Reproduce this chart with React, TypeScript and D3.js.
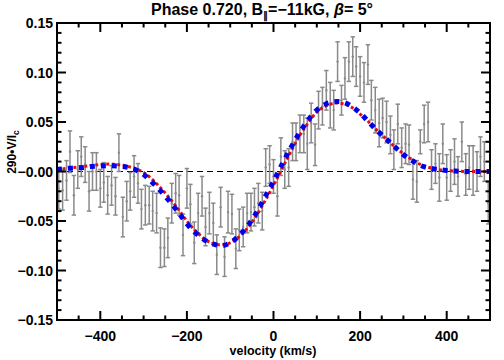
import React from "react";
import * as d3 from "d3";

const W = 504;
const H = 360;
const PLOT = { left: 57, right: 490, top: 23, bottom: 320 };
const FONT = "'Liberation Sans', Arial, Helvetica, sans-serif";

const velocities = [
  -496, -487, -478, -470, -461, -452, -444, -435, -426, -418, -409, -400, -392, -383, -374, -365, -357, -348, -339, -331, -322,
  -313, -305, -296, -287, -279, -270, -261, -252, -244, -235, -226, -218, -209, -200, -192, -183, -174, -165, -157, -148, -139, -131, -122,
  -113, -105, -96, -87, -79, -70, -61, -52,
  -44, -35, -26, -18, -9, 0, 9, 17, 26, 35, 44, 52, 61,
  70, 78, 87, 96, 104, 113, 122, 131, 139, 148, 157, 165, 174, 183, 191, 200, 209, 218, 226, 235, 244, 252, 261, 270,
  278, 287, 296, 305, 313, 322, 331, 339, 348, 357, 365, 374, 383, 391, 400, 409, 418, 426, 435, 444, 452, 461, 470, 478, 487, 496,
];
const stokesV = [
  -0.017, -0.019, -0.009, 0.02, -0.024, 0.002, 0.015, 0.007, -0.02, 0.0, 0.0, -0.017, -0.011, -0.024, -0.014, -0.025, 0.019, -0.046, -0.03, -0.02, -0.005,
  -0.012, -0.038, -0.034, -0.034, -0.04, -0.042, -0.077, -0.077, -0.067, -0.032, -0.022, -0.024, -0.064, -0.017, -0.033, -0.072, -0.042, -0.025, -0.056, -0.042, -0.052, -0.084, -0.036,
  -0.086, -0.041, -0.043, -0.078, -0.059, -0.056, -0.042, -0.041,
  -0.036, -0.032, -0.04, 0.004, 0.007, -0.005, -0.025, 0.015, 0.002, 0.004, 0.03, 0.03, 0.038,
  0.038, 0.028, 0.049, 0.027, 0.062, 0.066, 0.082, 0.067, 0.062, 0.111, 0.072, 0.094, 0.111, 0.116, 0.106, 0.096, 0.09, 0.108, 0.072, 0.062, 0.049, 0.054, 0.05, 0.037,
  0.022, 0.048, 0.024, 0.028, 0.027, -0.008, -0.01, 0.03, 0.048, 0.05, 0.002, 0.008, -0.006, 0.028, -0.006, 0.001, 0.01, -0.005, 0.03, -0.003, 0.004, 0.001, 0.0, 0.015, 0.01, -0.032,
];
const errors = [
  0.021, 0.02, 0.02, 0.021, 0.02, 0.019, 0.02, 0.018, 0.02, 0.019, 0.019, 0.019, 0.02, 0.019, 0.02, 0.019, 0.019, 0.02, 0.02, 0.019, 0.021,
  0.02, 0.02, 0.02, 0.019, 0.02, 0.02, 0.02, 0.019, 0.02, 0.02, 0.02, 0.02, 0.021, 0.02, 0.02, 0.021, 0.02, 0.02, 0.019, 0.021, 0.02, 0.02, 0.02,
  0.02, 0.021, 0.02, 0.02, 0.021, 0.02, 0.02, 0.019,
  0.019, 0.02, 0.019, 0.019, 0.019, 0.017, 0.02, 0.019, 0.019, 0.019, 0.019, 0.019, 0.019,
  0.019, 0.026, 0.02, 0.021, 0.019, 0.019, 0.02, 0.023, 0.02, 0.02, 0.015, 0.021, 0.02, 0.02, 0.02, 0.02, 0.02, 0.02, 0.02, 0.023, 0.024, 0.02, 0.021, 0.019,
  0.02, 0.02, 0.02, 0.02, 0.02, 0.02, 0.021, 0.012, 0.019, 0.02, 0.02, 0.02, 0.024, 0.02, 0.023, 0.021, 0.023, 0.02, 0.02, 0.021, 0.022, 0.025, 0.02, 0.02, 0.02, 0.021,
];

// model profiles
const modelVel = [
  -500, -480, -460, -440, -420, -400, -380, -360, -340, -320, -300, -280, -260, -240, -220, -200, -180, -160, -140, -120, -100, -80, -60, -40, -20,
  0, 20, 40, 60, 80, 100, 120, 140, 160, 180, 200, 220, 240, 260, 280, 300, 320, 340, 360, 380, 400, 420, 440, 460, 480, 500,
];
const modelBlue = [
  0.002, 0.003, 0.0035, 0.004, 0.005, 0.0055, 0.0058, 0.0055, 0.0045, 0.002, -0.003, -0.011, -0.02, -0.03, -0.041, -0.053, -0.062, -0.069, -0.073, -0.075, -0.072, -0.065, -0.055, -0.042, -0.026,
  -0.01, 0.0075, 0.024, 0.039, 0.052, 0.062, 0.068, 0.0705, 0.07, 0.066, 0.059, 0.05, 0.041, 0.033, 0.025, 0.017, 0.011, 0.006, 0.0035, 0.002, 0.001, 0.0005, 0, 0, 0, 0,
];
const modelRed = [
  0.002, 0.003, 0.004, 0.005, 0.006, 0.007, 0.0075, 0.007, 0.0055, 0.003, -0.001, -0.008, -0.017, -0.027, -0.038, -0.05, -0.06, -0.068, -0.073, -0.074, -0.072, -0.066, -0.057, -0.045, -0.03,
  -0.014, 0.003, 0.02, 0.036, 0.049, 0.06, 0.066, 0.069, 0.0685, 0.065, 0.058, 0.05, 0.041, 0.033, 0.025, 0.018, 0.012, 0.007, 0.004, 0.002, 0.001, 0.0005, 0, 0, 0, 0,
];

const xMajor = [-400, -200, 0, 200, 400];
const xLabels = ["−400", "−200", "0", "200", "400"];
const yMajor = [0.15, 0.1, 0.05, 0, -0.05, -0.1, -0.15];
const yLabels = ["0.15", "0.10", "0.05", "−0.00", "−0.05", "−0.10", "−0.15"];

export default function App() {
  const x = d3.scaleLinear().domain([-500, 500]).range([PLOT.left, PLOT.right]);
  const y = d3.scaleLinear().domain([-0.15, 0.15]).range([PLOT.bottom, PLOT.top]);

  const xMinor = d3.range(-500, 501, 50);
  const yMinor = d3.range(-15, 16).map((i) => i / 100);

  const line = d3
    .line<number>()
    .x((_, i) => x(modelVel[i]))
    .y((d) => y(d))
    .curve(d3.curveCatmullRom);

  const capW = 2.2;

  return (
    <svg width={W} height={H} style={{ position: "absolute", left: 0, top: 0, background: "#fff" }}>
      {/* zero line */}
      <line x1={PLOT.left} x2={PLOT.right} y1={y(0)} y2={y(0)} stroke="#000" strokeWidth={1} strokeDasharray="6 4" />

      {/* error bars */}
      <g stroke="#8a8a8a" strokeWidth={1.5} fill="#8a8a8a">
        {velocities.map((v, i) => {
          const cx = x(v);
          const y0 = y(stokesV[i] - errors[i]);
          const y1 = y(stokesV[i] + errors[i]);
          return (
            <g key={i}>
              <line x1={cx} x2={cx} y1={y0} y2={y1} />
              <line x1={cx - capW} x2={cx + capW} y1={y0} y2={y0} />
              <line x1={cx - capW} x2={cx + capW} y1={y1} y2={y1} />
              <circle cx={cx} cy={y(stokesV[i])} r={1.2} stroke="none" />
            </g>
          );
        })}
      </g>

      {/* models */}
      <path d={line(modelRed) || ""} fill="none" stroke="#dd1111" strokeWidth={3} strokeDasharray="3 2.5" />
      <path d={line(modelBlue) || ""} fill="none" stroke="#0000ee" strokeWidth={5} strokeDasharray="5 6" />

      {/* frame */}
      <rect
        x={PLOT.left}
        y={PLOT.top}
        width={PLOT.right - PLOT.left}
        height={PLOT.bottom - PLOT.top}
        fill="none"
        stroke="#000"
        strokeWidth={2}
      />

      {/* ticks */}
      <g stroke="#000" strokeWidth={2}>
        {xMinor.map((v) => {
          const len = xMajor.includes(v) ? 9 : 4.5;
          return (
            <g key={"xt" + v}>
              <line x1={x(v)} x2={x(v)} y1={PLOT.bottom} y2={PLOT.bottom - len} />
              <line x1={x(v)} x2={x(v)} y1={PLOT.top} y2={PLOT.top + len} />
            </g>
          );
        })}
        {yMinor.map((v, i) => {
          const len = i % 5 === 0 ? 9 : 4.5;
          return (
            <g key={"yt" + i}>
              <line x1={PLOT.left} x2={PLOT.left + len} y1={y(v)} y2={y(v)} />
              <line x1={PLOT.right} x2={PLOT.right - len} y1={y(v)} y2={y(v)} />
            </g>
          );
        })}
      </g>

      {/* tick labels */}
      <g fontFamily={FONT} fontWeight="bold" fontSize={14} fill="#000">
        {xMajor.map((v, i) => (
          <text key={"xl" + v} x={x(v)} y={341} textAnchor="middle">
            {xLabels[i]}
          </text>
        ))}
        {yMajor.map((v, i) => (
          <text key={"yl" + i} x={53} y={y(v) + 5} textAnchor="end">
            {yLabels[i]}
          </text>
        ))}
      </g>

      {/* axis titles */}
      <text x={273} y={355} textAnchor="middle" fontFamily={FONT} fontWeight="bold" fontSize={12.5}>
        velocity (km/s)
      </text>
      <text
        transform="translate(16,152) rotate(-90)"
        textAnchor="middle"
        fontFamily={FONT}
        fontWeight="bold"
        fontSize={12}
      >
        290•V/I<tspan fontSize={8.5} dy={3}>c</tspan>
      </text>

      {/* title */}
      <text x={262} y={15} textAnchor="middle" fontFamily={FONT} fontWeight="bold" fontSize={16}>
        Phase 0.720, B<tspan fontSize={10} dy={4}>∥</tspan>
        <tspan dy={-4}>=−11kG, </tspan>
        <tspan fontStyle="italic">β</tspan>= 5°
      </text>
    </svg>
  );
}
